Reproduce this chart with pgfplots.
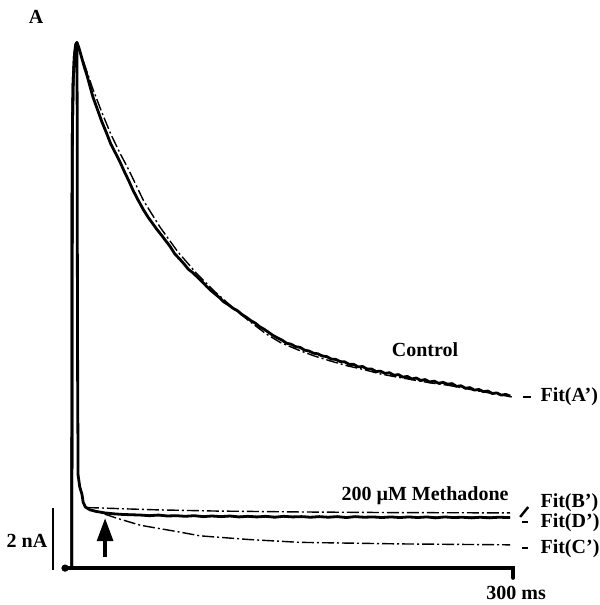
\documentclass[border=0pt]{standalone}
\usepackage{fontspec}
\setmainfont{Liberation Serif}
\usepackage{pgfplots}
\pgfplotsset{compat=1.18}
\usetikzlibrary{arrows.meta}
\begin{document}
\begin{tikzpicture}[
  fitline/.style={black, line width=0.7pt, dash pattern=on 6pt off 1.5pt on 1pt off 1.5pt},
  trace/.style={black, line width=1.4pt, line join=round},
  lbl/.style={font=\fontsize{10}{11}\selectfont\bfseries, inner sep=0pt}
]
\begin{axis}[
  scale only axis, width=223.5pt, height=271.25pt,
  xmin=0, xmax=300, ymin=0, ymax=17.5,
  hide axis, clip=false,
]
% bounding frame (invisible)
\path (axis cs:-44.3,-1.19) rectangle (axis cs:357,18.32);

% baseline / time axis with 300 ms tick
\addplot[black, line width=1.8pt, line cap=round] coordinates {(-0.67,0) (300,0) (300,-0.32)};
\addplot[only marks, mark=*, mark size=1.6pt, black] coordinates {(-0.67,0)};

% 2 nA scale bar
\addplot[black, line width=1.4pt] coordinates {(-8.72,-0.06) (-8.72,1.94)};

% Control trace
\addplot[trace] coordinates {
(3.8,0) (4.0,6) (4.1,12) (4.3,14.3) (4.8,15.7) (5.6,16.5) (6.5,16.88) (7.3,16.95)
(8.5,16.8) (10,16.55) (12,16.2) (14,15.9) (16,15.55) (18,15.2) (21,14.8) (24,14.4)
(27,14.05) (30,13.68) (33,13.4) (36,13.12) (39,12.8) (42,12.5) (45,12.18) (48,11.9)
(52,11.55) (55,11.32) (58,11.12) (61,10.92) (64,10.74) (67,10.55) (70,10.36) (73,10.13)
(76,9.98) (79,9.82) (82,9.64) (85,9.53) (88,9.39) (91,9.25) (94,9.1) (97,8.96)
(100,8.84) (103,8.72) (106,8.58) (109,8.49) (112,8.38) (115,8.3) (118,8.18) (121,8.09)
(124,7.98) (127,7.9) (130,7.78) (133,7.7) (136,7.6) (139,7.5) (142,7.42) (145,7.35)
(148,7.25) (151,7.22) (154,7.14) (157,7.12) (160,7.03) (163,7.0) (166,6.93) (169,6.91)
(172,6.84) (175,6.82) (178,6.74) (181,6.73) (184,6.66) (187,6.65) (190,6.57) (193,6.57)
(196,6.49) (199,6.5) (202,6.42) (205,6.42) (208,6.34) (211,6.35) (214,6.28) (217,6.3)
(220,6.22) (223,6.24) (226,6.16) (229,6.18) (232,6.1) (235,6.13) (238,6.05) (241,6.08)
(244,6.0) (247,6.03) (250,5.96) (253,5.99) (256,5.93) (259,5.95) (262,5.86) (265,5.88)
(268,5.8) (271,5.82) (274,5.74) (277,5.76) (280,5.69) (283,5.71) (286,5.63) (289,5.65)
(292,5.58) (295,5.6) (298,5.55)
};

% Fit(A')
\addplot[fitline] coordinates {
(7.3,16.95) (12,16.3) (18,15.45) (24,14.7) (30,14.0) (36,13.4) (42,12.85) (52,11.85)
(63,11.0) (75,10.2) (88,9.48) (99,8.95) (110,8.48) (122,8.0) (134,7.56) (144,7.27)
(156,7.03) (166,6.85) (178,6.67) (189,6.52) (200,6.40) (211,6.26) (222,6.16) (234,6.06)
(245,5.97) (256,5.9) (268,5.79) (280,5.68) (290,5.6) (299,5.52)
};

% 200 uM Methadone trace
\addplot[trace] coordinates {
(3.8,0) (4.0,6) (4.1,12) (4.3,14.3) (4.8,15.7) (5.6,16.5) (6.5,16.88) (7.3,16.95)
(7.5,14.5) (7.6,10) (7.8,6) (8.1,3.0) (9.2,2.62) (10.7,2.38) (11.5,2.12) (13,1.97)
(16,1.88) (20,1.83) (26,1.78) (32,1.75) (38,1.73) (44,1.72) (50,1.71) (56,1.69)
(62,1.71) (68,1.68) (74,1.69) (80,1.67) (86,1.69) (92,1.66) (98,1.68) (104,1.66)
(110,1.68) (116,1.65) (122,1.67) (128,1.65) (134,1.67) (140,1.64) (146,1.67) (152,1.65)
(158,1.66) (164,1.64) (170,1.66) (176,1.64) (182,1.66) (188,1.63) (194,1.66) (200,1.64)
(206,1.65) (212,1.63) (218,1.65) (224,1.63) (230,1.65) (236,1.63) (242,1.65) (248,1.62)
(254,1.65) (260,1.63) (266,1.64) (272,1.62) (278,1.64) (284,1.62) (290,1.64) (298,1.63)
};

% Fit(B')
\addplot[fitline] coordinates {
(14,1.95) (23,1.94) (40,1.91) (60,1.88) (100,1.84) (157,1.81) (220,1.79) (298,1.78)
};
% Fit(D')
\addplot[fitline] coordinates {
(26,1.77) (40,1.73) (60,1.70) (100,1.67) (200,1.65) (298,1.64)
};
% Fit(C')
\addplot[fitline] coordinates {
(26,1.74) (34,1.61) (50,1.38) (76.5,1.16) (90,1.04) (123,0.92) (157,0.83) (224,0.78) (298,0.75)
};

% arrow
\draw[black, line width=1.6pt, -{Triangle[width=8pt, length=11.5pt]}] (axis cs:26.2,0.35) -- (axis cs:26.2,1.61);

% label tick marks
\draw[black, line width=1.2pt] (axis cs:306.7,5.52) -- (axis cs:312.1,5.52);
\draw[black, line width=1.2pt] (axis cs:304.7,1.65) -- (axis cs:310.1,1.97);
\draw[black, line width=1.2pt] (axis cs:306.0,1.48) -- (axis cs:310.1,1.48);
\draw[black, line width=1.2pt] (axis cs:306.0,0.65) -- (axis cs:310.1,0.65);

% labels
\node[lbl] at (axis cs:-20.1,17.77) {A};
\node[lbl] at (axis cs:240.9,7.03) {Control};
\node[lbl] at (axis cs:240.9,2.35) {200 µM Methadone};
\node[lbl, anchor=west] at (axis cs:318.1,5.52) {Fit(A')};
\node[lbl, anchor=west] at (axis cs:318.1,2.10) {Fit(B')};
\node[lbl, anchor=west] at (axis cs:318.1,1.48) {Fit(D')};
\node[lbl, anchor=west] at (axis cs:318.1,0.61) {Fit(C')};
\node[lbl] at (axis cs:302,-0.80) {300 ms};
\node[lbl] at (axis cs:-26.2,0.87) {2 nA};
\end{axis}
\end{tikzpicture}
\end{document}
